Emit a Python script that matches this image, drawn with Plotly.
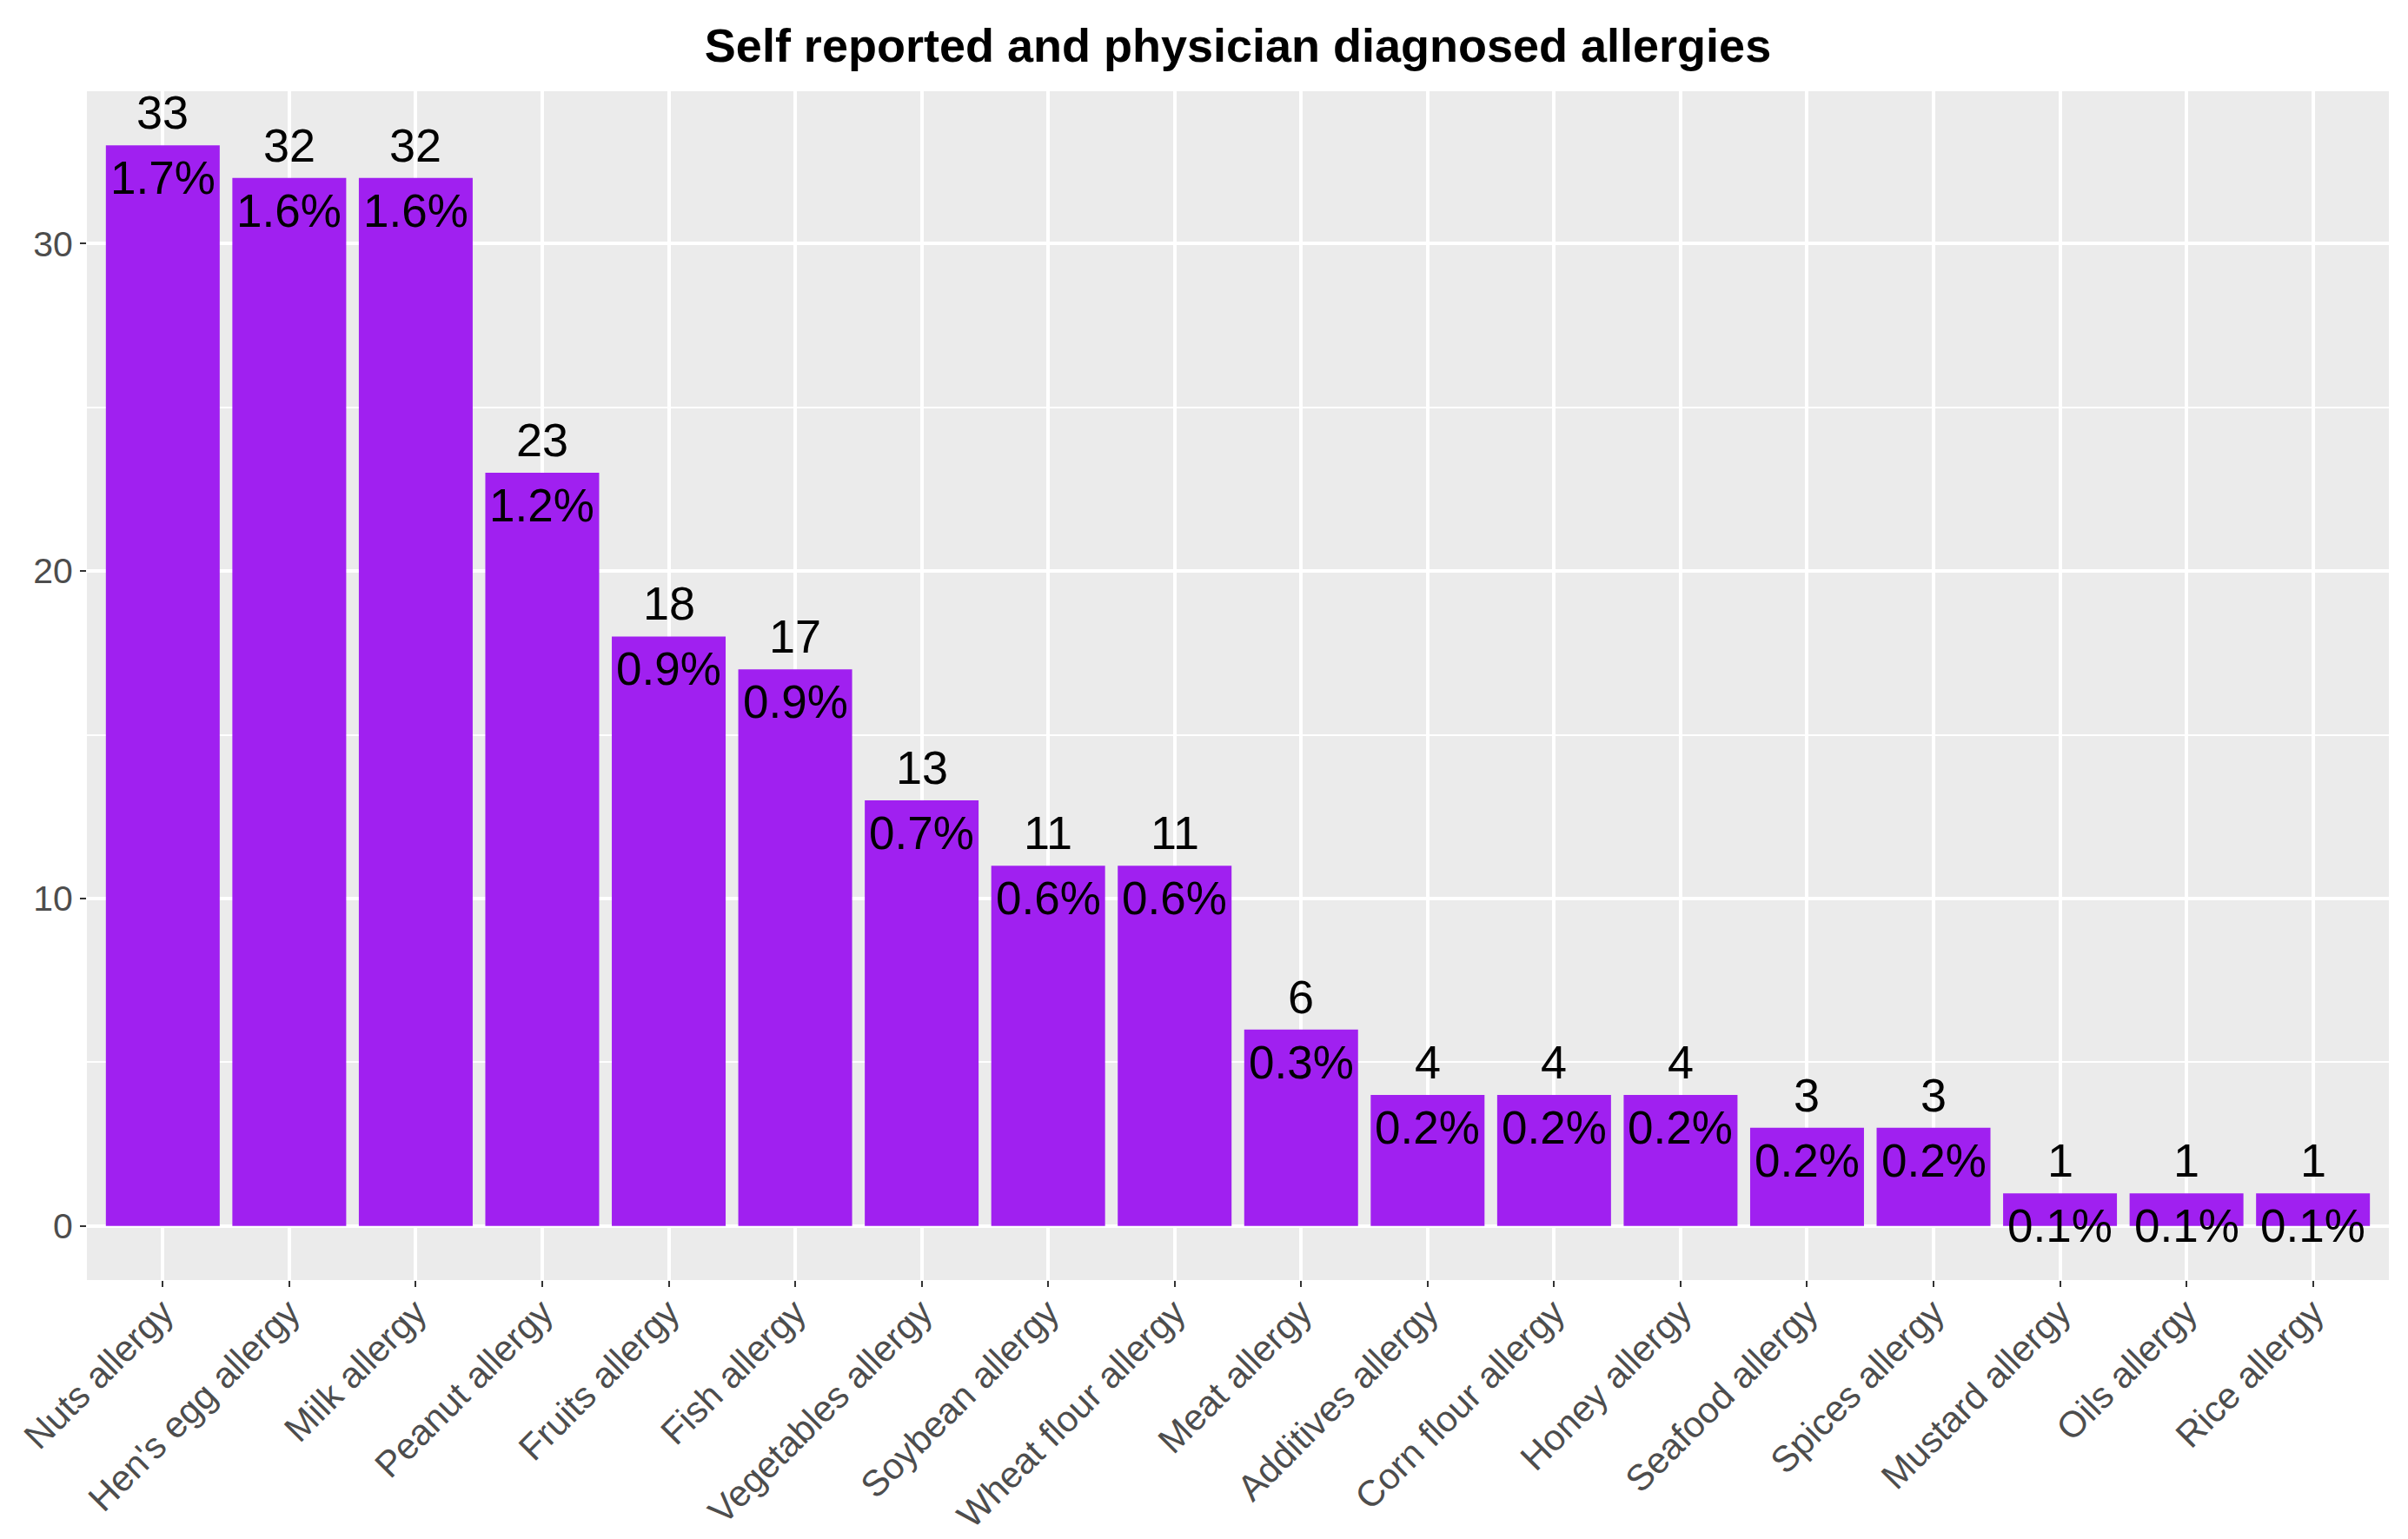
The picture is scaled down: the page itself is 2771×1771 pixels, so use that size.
import plotly.graph_objects as go

# data
CATEGORIES = [
    "Nuts allergy", "Hen's egg allergy", "Milk allergy", "Peanut allergy",
    "Fruits allergy", "Fish allergy", "Vegetables allergy", "Soybean allergy",
    "Wheat flour allergy", "Meat allergy", "Additives allergy", "Corn flour allergy",
    "Honey allergy", "Seafood allergy", "Spices allergy", "Mustard allergy",
    "Oils allergy", "Rice allergy",
]
COUNTS = [33, 32, 32, 23, 18, 17, 13, 11, 11, 6, 4, 4, 4, 3, 3, 1, 1, 1]
PERCENTS = [1.7, 1.6, 1.6, 1.2, 0.9, 0.9, 0.7, 0.6, 0.6, 0.3, 0.2, 0.2, 0.2, 0.2, 0.2, 0.1, 0.1, 0.1]
Y_TICKS = [0, 10, 20, 30]

TITLE = "Self reported and physician diagnosed allergies"

# ggplot-ish look
PURPLE = "#A020F0"
PANEL = "#EBEBEB"
FONT = "Liberation Sans, Arial, sans-serif"
W, H = 2771, 1771

fig = go.Figure()

fig.add_trace(go.Bar(
    x=CATEGORIES,
    y=COUNTS,
    marker_color=PURPLE,
    marker_line_width=0,
    showlegend=False,
    hoverinfo="skip",
))

annotations = []
for cat, n, p in zip(CATEGORIES, COUNTS, PERCENTS):
    # count above the bar, share inside just under the top
    annotations.append(dict(
        x=cat, y=n, xref="x", yref="y", text=str(n), showarrow=False,
        yanchor="bottom", yshift=6, font=dict(size=54, color="black", family=FONT),
    ))
    annotations.append(dict(
        x=cat, y=n, xref="x", yref="y", text=f"{p:.1f}%", showarrow=False,
        yanchor="top", yshift=-6, font=dict(size=53, color="black", family=FONT),
    ))

fig.update_layout(
    width=W,
    height=H,
    paper_bgcolor="white",
    plot_bgcolor=PANEL,
    font=dict(family=FONT, color="#4D4D4D", size=41),
    margin=dict(l=92, r=30, t=97, b=306, autoexpand=False),
    bargap=0.1,
    title=dict(
        text=f"<b>{TITLE}</b>",
        x=(92 + (W - 30)) / 2 / W,
        xanchor="center",
        y=1 - 44 / H,
        yanchor="middle",
        font=dict(size=54, color="black", family=FONT),
    ),
    xaxis=dict(
        range=[-0.6, len(CATEGORIES) - 0.4],
        showgrid=True, gridcolor="white", gridwidth=4,
        zeroline=False, showline=False,
        ticks="outside", ticklen=7, tickwidth=2, tickcolor="#333333",
        tickangle=-45,
        ticklabelstandoff=-12,
        tickfont=dict(size=42, color="#4D4D4D"),
    ),
    yaxis=dict(
        range=[-1.65, 34.65],
        tickvals=Y_TICKS,
        showgrid=True, gridcolor="white", gridwidth=4,
        minor=dict(dtick=5, tick0=0, showgrid=True, gridcolor="white", gridwidth=2),
        zeroline=False, showline=False,
        ticks="outside", ticklen=7, tickwidth=2, tickcolor="#333333",
        tickfont=dict(size=41, color="#4D4D4D"),
    ),
    annotations=annotations,
)

fig.write_html("out.html")
